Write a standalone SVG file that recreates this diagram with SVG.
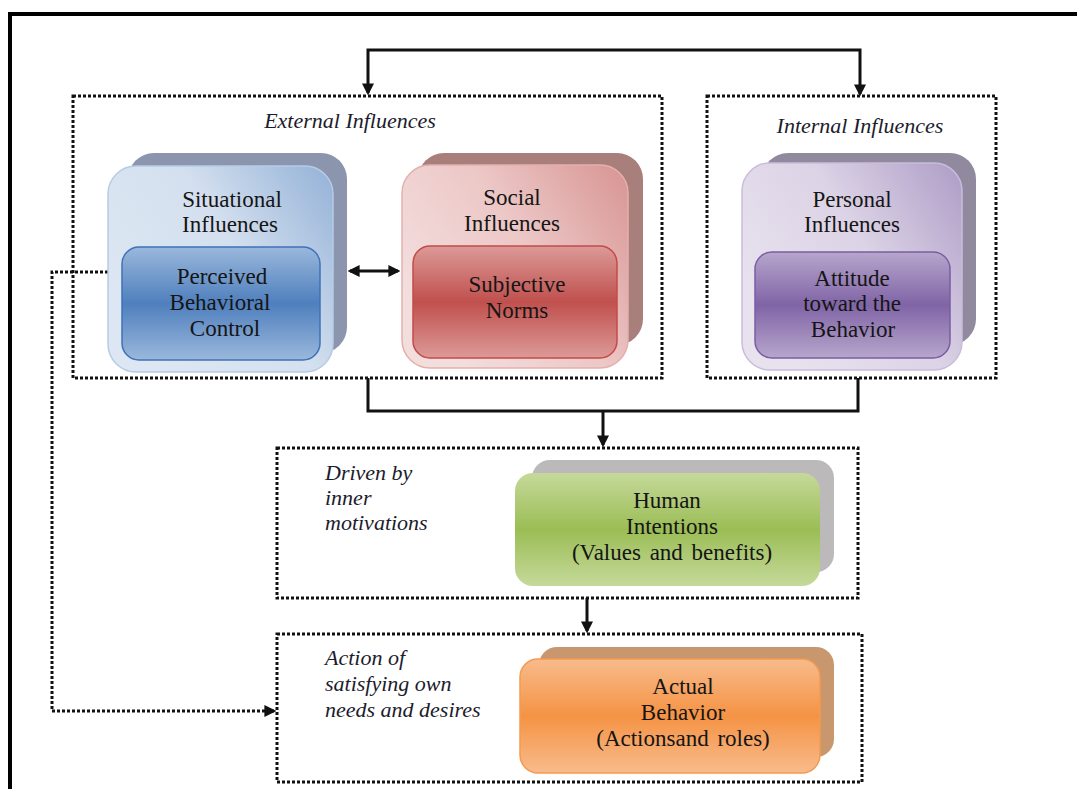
<svg xmlns="http://www.w3.org/2000/svg" width="1077" height="789" viewBox="0 0 1077 789">
<defs>
<style>
.frame{fill:none;stroke:#000;stroke-width:4}
.dot{fill:none;stroke:#111;stroke-width:3;stroke-dasharray:3 2}
.line{fill:none;stroke:#111;stroke-width:3}
.t{font-family:'Liberation Serif','DejaVu Serif',serif;font-size:23px;fill:#151515;text-anchor:middle}
.lab{font-family:'Liberation Serif','DejaVu Serif',serif;font-size:22px;font-style:italic;fill:#1c1c2c}
</style>
<marker id="arr" viewBox="0 0 10 10" refX="8" refY="5" markerWidth="4" markerHeight="4" orient="auto-start-reverse"><path d="M0,0 L10,5 L0,10 z" fill="#111"/></marker>
<linearGradient id="gBlue" x1="0" y1="0.6" x2="1" y2="0"><stop offset="0" stop-color="#dde7f3"/><stop offset="0.5" stop-color="#d4e0ef"/><stop offset="1" stop-color="#93b1d7"/></linearGradient>
<linearGradient id="gBlueIn" x1="0" y1="0" x2="0" y2="1"><stop offset="0" stop-color="#9ab8dc"/><stop offset="0.5" stop-color="#4f7fbd"/><stop offset="1" stop-color="#9ab8dc"/></linearGradient>
<linearGradient id="gRed" x1="0" y1="0.6" x2="1" y2="0"><stop offset="0" stop-color="#f3dede"/><stop offset="0.5" stop-color="#ecc7c6"/><stop offset="1" stop-color="#d79492"/></linearGradient>
<linearGradient id="gRedIn" x1="0" y1="0" x2="0" y2="1"><stop offset="0" stop-color="#dc9a98"/><stop offset="0.5" stop-color="#c0504d"/><stop offset="1" stop-color="#dc9a98"/></linearGradient>
<linearGradient id="gPur" x1="0" y1="0.6" x2="1" y2="0"><stop offset="0" stop-color="#e8e2ee"/><stop offset="0.5" stop-color="#dcd3e6"/><stop offset="1" stop-color="#ad9cc6"/></linearGradient>
<linearGradient id="gPurIn" x1="0" y1="0" x2="0" y2="1"><stop offset="0" stop-color="#b7a6cc"/><stop offset="0.5" stop-color="#8064a6"/><stop offset="1" stop-color="#b7a6cc"/></linearGradient>
<linearGradient id="gGreen" x1="0" y1="0" x2="0" y2="1"><stop offset="0" stop-color="#c5d99a"/><stop offset="0.5" stop-color="#9bbd55"/><stop offset="1" stop-color="#c5d99a"/></linearGradient>
<linearGradient id="gOrange" x1="0" y1="0" x2="0" y2="1"><stop offset="0" stop-color="#f8bb8c"/><stop offset="0.5" stop-color="#f59344"/><stop offset="1" stop-color="#f8bb8c"/></linearGradient>
</defs>
<rect width="1077" height="789" fill="#fff"/>
<path class="frame" d="M10,789 V14 H1077"/>

<g id="external-influences">
<rect class="dot" x="73" y="96" width="589" height="282"/>
<text class="lab" x="350" y="128" text-anchor="middle">External Influences</text>
</g>
<g id="internal-influences">
<rect class="dot" x="707" y="96" width="289" height="282"/>
<text class="lab" x="860" y="133" text-anchor="middle">Internal Influences</text>
</g>
<g id="driven-by">
<rect class="dot" x="277" y="448" width="581" height="150"/>
<text class="lab" x="325" y="480">Driven by</text>
<text class="lab" x="325" y="505">inner</text>
<text class="lab" x="325" y="530">motivations</text>
</g>
<g id="action-of">
<rect class="dot" x="277" y="634" width="585" height="148"/>
<text class="lab" x="325" y="665">Action of</text>
<text class="lab" x="325" y="691">satisfying own</text>
<text class="lab" x="325" y="717">needs and desires</text>
</g>

<g id="connectors">
<path class="line" d="M368,93 V50 H860 V94" marker-start="url(#arr)" marker-end="url(#arr)"/>
<path class="line" d="M368,378 V411 H858 V378"/>
<path class="line" d="M603,411 V445" marker-end="url(#arr)"/>
<path class="line" d="M587,598 V631" marker-end="url(#arr)"/>
<path class="line" d="M350,271 H398" marker-start="url(#arr)" marker-end="url(#arr)"/>
<path class="dot" d="M108,272 H52 V711 H274" marker-end="url(#arr)"/>
</g>

<g id="situational">
<rect x="128" y="153" width="219" height="200" rx="26" fill="#8b96ae"/>
<rect x="108" y="166" width="225" height="206" rx="28" fill="url(#gBlue)" stroke="#b7cbe6" stroke-width="1.5"/>
<text class="t" x="232" y="207">Situational</text>
<text class="t" x="230" y="232">Influences</text>
<g id="perceived">
<rect x="122" y="247" width="198" height="113" rx="17" fill="url(#gBlueIn)" stroke="#3f72b8" stroke-width="1.5"/>
<text class="t" x="222" y="284">Perceived</text>
<text class="t" x="220" y="310">Behavioral</text>
<text class="t" x="225" y="336">Control</text>
</g>
</g>

<g id="social">
<rect x="418" y="153" width="225" height="192" rx="26" fill="#a97f7b"/>
<rect x="402" y="165" width="226" height="203" rx="28" fill="url(#gRed)" stroke="#e3b0ae" stroke-width="1.5"/>
<text class="t" x="512" y="205">Social</text>
<text class="t" x="512" y="231">Influences</text>
<g id="subjective">
<rect x="413" y="246" width="204" height="112" rx="17" fill="url(#gRedIn)" stroke="#c44b48" stroke-width="1.5"/>
<text class="t" x="517" y="292">Subjective</text>
<text class="t" x="517" y="318">Norms</text>
</g>
</g>

<g id="personal">
<rect x="762" y="153" width="214" height="192" rx="26" fill="#918a9e"/>
<rect x="742" y="163" width="220" height="207" rx="28" fill="url(#gPur)" stroke="#c9bddb" stroke-width="1.5"/>
<text class="t" x="852" y="207">Personal</text>
<text class="t" x="852" y="232">Influences</text>
<g id="attitude">
<rect x="755" y="252" width="195" height="106" rx="17" fill="url(#gPurIn)" stroke="#7a5ea3" stroke-width="1.5"/>
<text class="t" x="852" y="286">Attitude</text>
<text class="t" x="852" y="311">toward the</text>
<text class="t" x="853" y="337">Behavior</text>
</g>
</g>

<g id="human-intentions">
<rect x="532" y="460" width="302" height="112" rx="18" fill="#bbb9ba"/>
<rect x="515" y="473" width="305" height="113" rx="18" fill="url(#gGreen)"/>
<text class="t" x="667" y="508">Human</text>
<text class="t" x="672" y="534">Intentions</text>
<text class="t" x="672" y="560" word-spacing="3">(Values and benefits)</text>
</g>

<g id="actual-behavior">
<rect x="539" y="647" width="295" height="110" rx="18" fill="#c8976e"/>
<rect x="520" y="659" width="300" height="114" rx="18" fill="url(#gOrange)" stroke="#f39a50" stroke-width="1.5"/>
<text class="t" x="683" y="694">Actual</text>
<text class="t" x="683" y="720">Behavior</text>
<text class="t" x="683" y="746" word-spacing="3">(Actionsand roles)</text>
</g>
</svg>
